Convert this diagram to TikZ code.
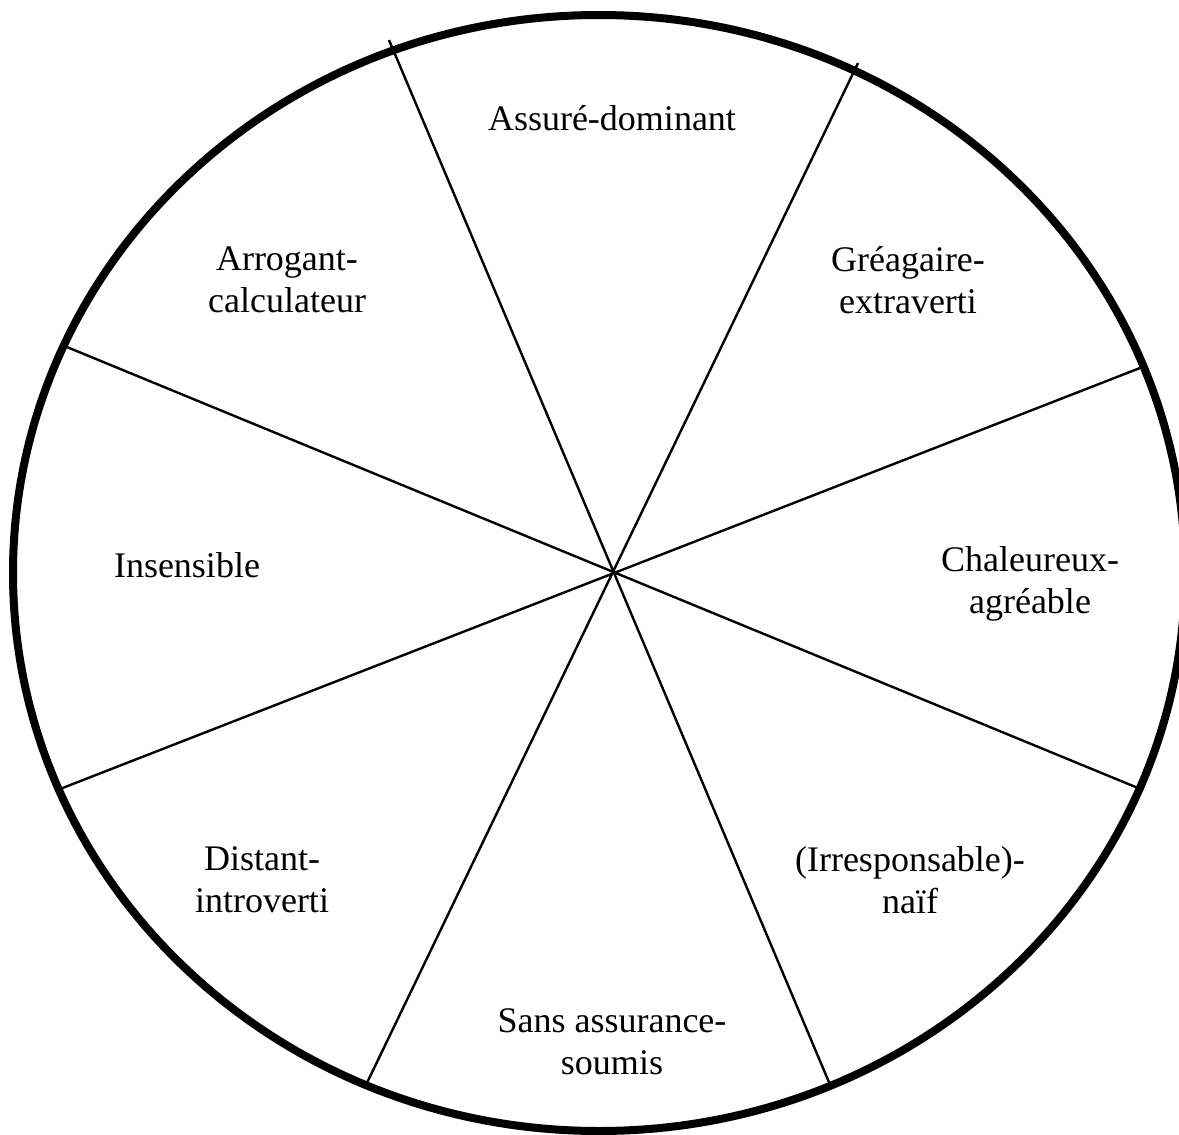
\documentclass[tikz,border=0pt]{standalone}
\usepackage{fontspec}
\setmainfont{Liberation Serif}
\usepackage{tikz}
\usetikzlibrary{calc}

\tikzset{
  rim/.style   = {line width=8pt},
  spoke/.style = {line width=2.4pt},
  sector/.style = {align=center, font=\fontsize{36}{42}\selectfont, inner sep=0pt}
}

\begin{document}
\begin{tikzpicture}[x=1pt,y=-1pt]
            \useasboundingbox (0,0) rectangle (1179,1135);
            % outer ring
            \draw [rim] (599,573) ellipse [x radius=586, y radius=558];
            % spoke ends
            \coordinate (n1) at (389,40);
            \coordinate (s1) at (831,1087);
            \coordinate (n2) at (858,63);
            \coordinate (s2) at (365,1087);
            \coordinate (w1) at (62,345);
            \coordinate (e1) at (1138,788);
            \coordinate (w2) at (60,789);
            \coordinate (e2) at (1140,368);
            \draw [spoke] (n1) -- (s1)
                          (n2) -- (s2)
                          (w1) -- (e1)
                          (w2) -- (e2);
            % labels
            \node [sector] (dom) at (612,118) {Assuré-dominant};
            \node [sector] (arr) at (287,280) {Arrogant-\\calculateur};
            \node [sector] (gre) at (908,280) {Gréagaire-\\extraverti};
            \node [sector] (ins) at (187,565) {Insensible};
            \node [sector] (cha) at (1030,584) {Chaleureux-\\agréable};
            \node [sector] (dis) at (262,880) {Distant-\\introverti};
            \node [sector] (irr) at (910,880) {(Irresponsable)-\\naïf};
            \node [sector] (sou) at (612,1042) {Sans assurance-\\soumis};
        \end{tikzpicture}
\end{document}
